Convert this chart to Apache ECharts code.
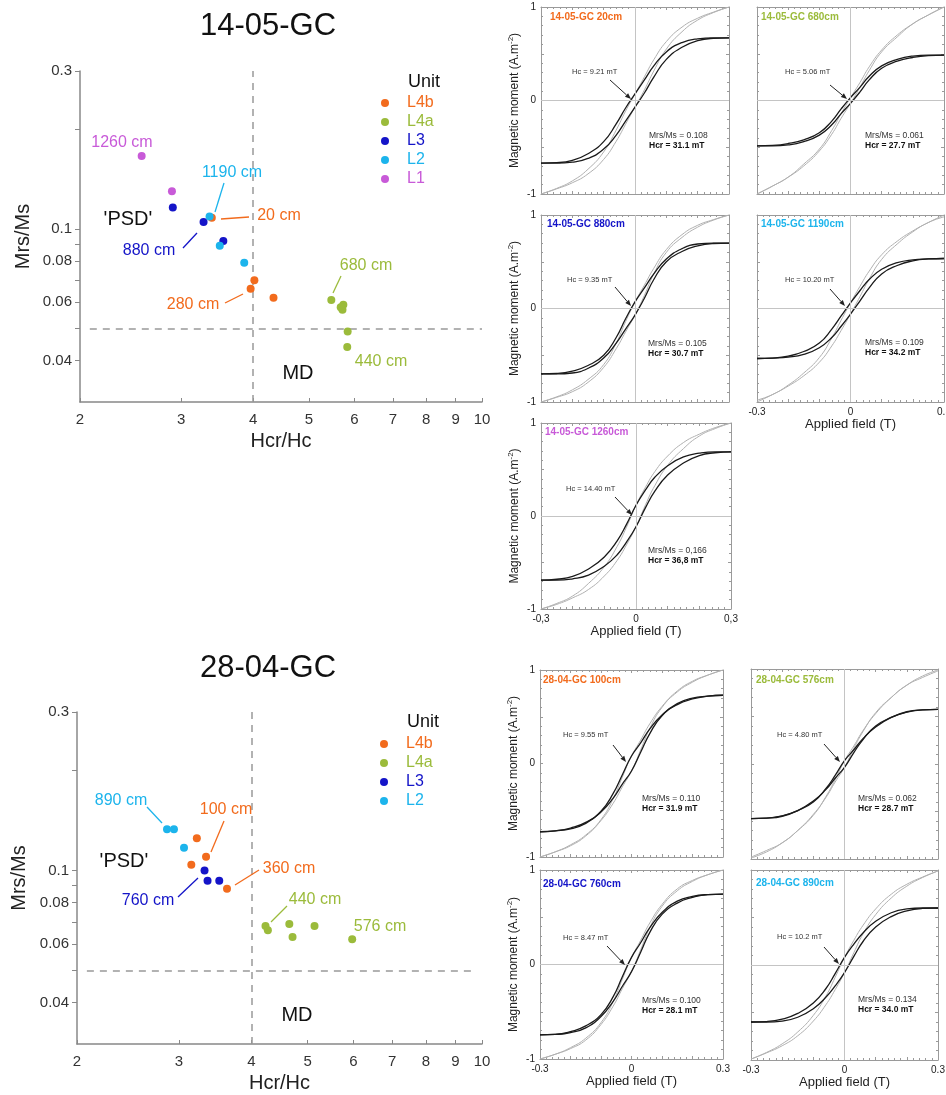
<!DOCTYPE html>
<html>
<head>
<meta charset="utf-8">
<title>Day plots and hysteresis loops</title>
<script src="https://cdn.jsdelivr.net/npm/echarts@6/dist/echarts.min.js"></script>
<style>
  html, body { margin: 0; padding: 0; background: #fff; }
  #chart { width: 946px; height: 1095px; }
</style>
</head>
<body>
<div id="chart"></div>
<script>
const FONT = 'Liberation Sans, Arial, sans-serif';

// couleurs des unités
const unitColors = { L4b: '#f26b1d', L4a: '#9bbb3b', L3: '#1414c8', L2: '#1cb4ec', L1: '#c85ad8' };

// Day plot 14-05-GC : [Hcr/Hc, Mrs/Ms]
const gc14_L4b = [[3.39, 0.108], [3.96, 0.066], [4.02, 0.070], [4.34, 0.062]];
const gc14_L4a = [[5.47, 0.061], [5.74, 0.059], [5.68, 0.058], [5.72, 0.057], [5.84, 0.049], [5.83, 0.044]];
const gc14_L3 = [[2.90, 0.116], [3.28, 0.105], [3.55, 0.092]];
const gc14_L2 = [[3.36, 0.109], [3.50, 0.089], [3.86, 0.079]];
const gc14_L1 = [[2.56, 0.166], [2.89, 0.130]];

// Day plot 28-04-GC
const gc28_L4b = [[3.22, 0.125], [3.34, 0.110], [3.15, 0.104], [3.63, 0.088]];
const gc28_L4a = [[4.23, 0.068], [4.27, 0.066], [4.65, 0.069], [4.71, 0.063], [5.14, 0.068], [5.97, 0.062]];
const gc28_L3 = [[3.32, 0.100], [3.36, 0.093], [3.52, 0.093]];
const gc28_L2 = [[2.86, 0.133], [2.94, 0.133], [3.06, 0.117]];

// graduations des Day plots
const dayXTicks = [2, 3, 4, 5, 6, 7, 8, 9, 10];
const dayYTicks = [0.04, 0.05, 0.06, 0.07, 0.08, 0.09, 0.1, 0.2, 0.3];
const dayYLabels = [0.04, 0.06, 0.08, 0.1, 0.3];

// cycles d'hystérésis : champ (T) et branche descendante (moment normalisé)
const fieldT = [-0.3, -0.25, -0.2, -0.15, -0.1, -0.06, -0.03, 0, 0.03, 0.06, 0.1, 0.15, 0.2, 0.25, 0.3];
const corr14_20 = [-0.67, -0.665, -0.64, -0.57, -0.44, -0.25, -0.08, 0.07, 0.22, 0.37, 0.52, 0.62, 0.66, 0.67, 0.67];
const raw14_20 = [-1.0, -0.94, -0.86, -0.735, -0.55, -0.316, -0.113, 0.07, 0.253, 0.436, 0.63, 0.785, 0.88, 0.945, 1.0];
const corr14_680 = [-0.485, -0.48, -0.46, -0.42, -0.345, -0.22, -0.09, 0.03, 0.14, 0.26, 0.37, 0.44, 0.475, 0.485, 0.485];
const raw14_680 = [-1.0, -0.915, -0.82, -0.68, -0.52, -0.32, -0.14, 0.03, 0.19, 0.36, 0.54, 0.70, 0.82, 0.915, 1.0];
const corr14_880 = [-0.70, -0.695, -0.67, -0.61, -0.50, -0.31, -0.11, 0.07, 0.22, 0.37, 0.53, 0.64, 0.69, 0.70, 0.70];
const raw14_880 = [-1.0, -0.945, -0.87, -0.76, -0.60, -0.37, -0.14, 0.07, 0.25, 0.43, 0.63, 0.79, 0.89, 0.95, 1.0];
const corr14_1190 = [-0.535, -0.53, -0.51, -0.46, -0.37, -0.22, -0.08, 0.06, 0.19, 0.31, 0.42, 0.49, 0.52, 0.53, 0.535];
const raw14_1190 = [-0.98, -0.92, -0.82, -0.69, -0.525, -0.315, -0.125, 0.06, 0.235, 0.40, 0.575, 0.72, 0.83, 0.92, 1.0];
const corr14_1260 = [-0.69, -0.68, -0.65, -0.57, -0.44, -0.27, -0.09, 0.115, 0.28, 0.42, 0.54, 0.635, 0.675, 0.69, 0.69];
const raw14_1260 = [-1.0, -0.94, -0.86, -0.725, -0.545, -0.33, -0.12, 0.115, 0.31, 0.48, 0.645, 0.79, 0.88, 0.95, 1.0];
const corr28_100 = [-0.73, -0.72, -0.69, -0.63, -0.51, -0.32, -0.12, 0.08, 0.22, 0.37, 0.52, 0.64, 0.70, 0.72, 0.73];
const raw28_100 = [-1.0, -0.945, -0.87, -0.765, -0.60, -0.375, -0.145, 0.08, 0.25, 0.425, 0.61, 0.775, 0.88, 0.945, 1.0];
const corr28_576 = [-0.575, -0.57, -0.545, -0.49, -0.40, -0.26, -0.12, 0.035, 0.15, 0.27, 0.39, 0.49, 0.55, 0.57, 0.575];
const raw28_576 = [-0.98, -0.91, -0.83, -0.70, -0.54, -0.345, -0.165, 0.035, 0.19, 0.355, 0.53, 0.70, 0.83, 0.925, 0.99];
const corr28_760 = [-0.745, -0.74, -0.71, -0.65, -0.53, -0.34, -0.13, 0.075, 0.23, 0.39, 0.55, 0.67, 0.72, 0.74, 0.745];
const raw28_760 = [-1.0, -0.95, -0.88, -0.78, -0.615, -0.39, -0.155, 0.075, 0.255, 0.44, 0.635, 0.80, 0.89, 0.95, 1.0];
const corr28_890 = [-0.60, -0.595, -0.57, -0.51, -0.40, -0.25, -0.09, 0.08, 0.22, 0.34, 0.46, 0.55, 0.59, 0.60, 0.60];
const raw28_890 = [-0.99, -0.92, -0.83, -0.705, -0.53, -0.33, -0.13, 0.08, 0.26, 0.42, 0.59, 0.745, 0.85, 0.925, 0.99];

// mise en page des petits graphiques
const panels = [
  { title: '14-05-GC 20cm', unit: 'L4b', corr: corr14_20, raw: raw14_20, hc: 'Hc = 9.21 mT', mrs: 'Mrs/Ms = 0.108', hcr: 'Hcr = 31.1 mT',
    rect: [541, 7, 188, 187], t: [550, 17], h: [572, 72], arr: [610, 80, 631, 99], m: [649, 136], yLab: true, zeroH: true, zeroV: true },
  { title: '14-05-GC 680cm', unit: 'L4a', corr: corr14_680, raw: raw14_680, hc: 'Hc = 5.06 mT', mrs: 'Mrs/Ms = 0.061', hcr: 'Hcr = 27.7 mT',
    rect: [757, 7, 187, 187], t: [761, 17], h: [785, 72], arr: [830, 85, 847, 99], m: [865, 136], zeroH: true, zeroV: true },
  { title: '14-05-GC 880cm', unit: 'L3', corr: corr14_880, raw: raw14_880, hc: 'Hc = 9.35 mT', mrs: 'Mrs/Ms = 0.105', hcr: 'Hcr = 30.7 mT',
    rect: [541, 215, 188, 187], t: [547, 224], h: [567, 280], arr: [615, 287, 631, 306], m: [648, 344], yLab: true, zeroH: true, zeroV: true },
  { title: '14-05-GC 1190cm', unit: 'L2', corr: corr14_1190, raw: raw14_1190, hc: 'Hc = 10.20 mT', mrs: 'Mrs/Ms = 0.109', hcr: 'Hcr = 34.2 mT',
    rect: [757, 215, 187, 187], t: [761, 224], h: [785, 280], arr: [830, 289, 845, 306], m: [865, 343], xLab: '.', zeroH: true, zeroV: true },
  { title: '14-05-GC 1260cm', unit: 'L1', corr: corr14_1260, raw: raw14_1260, hc: 'Hc = 14.40 mT', mrs: 'Mrs/Ms = 0,166', hcr: 'Hcr = 36,8 mT',
    rect: [541, 423, 190, 186], t: [545, 432], h: [566, 489], arr: [615, 497, 632, 515], m: [648, 551], yLab: true, xLab: ',', zeroH: true, zeroV: true },
  { title: '28-04-GC 100cm', unit: 'L4b', corr: corr28_100, raw: raw28_100, hc: 'Hc = 9.55 mT', mrs: 'Mrs/Ms = 0.110', hcr: 'Hcr = 31.9 mT',
    rect: [540, 670, 183, 187], t: [543, 680], h: [563, 735], arr: [613, 745, 626, 762], m: [642, 799], yLab: true },
  { title: '28-04-GC 576cm', unit: 'L4a', corr: corr28_576, raw: raw28_576, hc: 'Hc = 4.80 mT', mrs: 'Mrs/Ms = 0.062', hcr: 'Hcr = 28.7 mT',
    rect: [751, 669, 187, 190], t: [756, 680], h: [777, 735], arr: [824, 744, 840, 762], m: [858, 799], zeroV: true },
  { title: '28-04-GC 760cm', unit: 'L3', corr: corr28_760, raw: raw28_760, hc: 'Hc = 8.47 mT', mrs: 'Mrs/Ms = 0.100', hcr: 'Hcr = 28.1 mT',
    rect: [540, 870, 183, 189], t: [543, 884], h: [563, 938], arr: [607, 946, 625, 965], m: [642, 1001], yLab: true, xLab: '.', zeroH: true },
  { title: '28-04-GC 890cm', unit: 'L2', corr: corr28_890, raw: raw28_890, hc: 'Hc = 10.2 mT', mrs: 'Mrs/Ms = 0.134', hcr: 'Hcr = 34.0 mT',
    rect: [751, 870, 187, 190], t: [756, 883], h: [777, 937], arr: [824, 947, 839, 964], m: [858, 1000], xLab: '.', zeroH: true, zeroV: true }
];

const fmt2 = v => String(+(+v).toPrecision(2));

// axes des Day plots
function dayXAxis(grid) {
  return {
    type: 'log', logBase: 10, gridIndex: grid, min: 2, max: 10,
    name: 'Hcr/Hc', nameLocation: 'middle', nameGap: 29,
    nameTextStyle: { fontSize: 20, color: '#222', fontFamily: FONT },
    axisLine: { lineStyle: { color: '#888', width: 1.5 } },
    axisTick: { inside: true, length: 4, lineStyle: { color: '#888' }, customValues: dayXTicks },
    axisLabel: { fontSize: 15, color: '#333', fontFamily: FONT, margin: 10, customValues: dayXTicks, formatter: fmt2 },
    minorTick: { show: false }, splitLine: { show: false }
  };
}
function dayYAxis(grid, gap) {
  return {
    type: 'log', logBase: 10, gridIndex: grid, min: 0.03, max: 0.3,
    name: 'Mrs/Ms', nameLocation: 'middle', nameGap: gap, nameRotate: 90,
    nameTextStyle: { fontSize: 20, color: '#222', fontFamily: FONT },
    axisLine: { lineStyle: { color: '#888', width: 1.5 } },
    axisTick: { length: 5, lineStyle: { color: '#888' }, customValues: dayYTicks },
    axisLabel: { fontSize: 15, color: '#333', fontFamily: FONT, margin: 8, customValues: dayYLabels, formatter: fmt2 },
    minorTick: { show: false }, splitLine: { show: false }
  };
}

// séries des Day plots
const dash = { color: '#999', type: [7, 6], width: 1.5 };
function dayScatter(name, data, grid, withLines, hStart, hEnd) {
  const s = {
    type: 'scatter', name: name, data: data, xAxisIndex: grid, yAxisIndex: grid,
    symbolSize: 8, itemStyle: { color: unitColors[name], opacity: 1 }, z: 5
  };
  if (withLines) {
    s.markLine = {
      silent: true, symbol: 'none', label: { show: false }, lineStyle: dash,
      data: [
        { xAxis: 4 },
        [{ coord: [hStart, 0.05] }, { coord: [hEnd, 0.05] }]
      ]
    };
  }
  return s;
}

const series = [
  dayScatter('L4b', gc14_L4b, 0, true, 2.08, 10),
  dayScatter('L4a', gc14_L4a, 0),
  dayScatter('L3', gc14_L3, 0),
  dayScatter('L2', gc14_L2, 0),
  dayScatter('L1', gc14_L1, 0),
  dayScatter('L4b', gc28_L4b, 1, true, 2.08, 9.73),
  dayScatter('L4a', gc28_L4a, 1),
  dayScatter('L3', gc28_L3, 1),
  dayScatter('L2', gc28_L2, 1)
];

const grids = [
  { left: 80, top: 71, width: 402, height: 331, outerBoundsMode: 'none', containLabel: false },
  { left: 77, top: 712, width: 405, height: 332, outerBoundsMode: 'none', containLabel: false }
];
const xAxes = [dayXAxis(0), dayXAxis(1)];
const yAxes = [dayYAxis(0, 47), dayYAxis(1, 48)];

// petits graphiques d'hystérésis
const frame = { color: '#9a9a9a', width: 1 };
panels.forEach((p, k) => {
  const gi = k + 2;
  grids.push({ left: p.rect[0], top: p.rect[1], width: p.rect[2], height: p.rect[3], outerBoundsMode: 'none', containLabel: false });
  const xBase = {
    type: 'value', gridIndex: gi, min: -0.3, max: 0.3, interval: 0.1,
    axisLine: { onZero: false, lineStyle: frame },
    axisTick: { inside: true, length: 3, lineStyle: frame },
    minorTick: { show: true, splitNumber: 5, length: 2, lineStyle: frame },
    splitLine: { show: false }
  };
  const yBase = {
    type: 'value', gridIndex: gi, min: -1, max: 1, interval: 0.5,
    axisLine: { onZero: false, lineStyle: frame },
    axisTick: { inside: true, length: 3, lineStyle: frame },
    minorTick: { show: true, splitNumber: 5, length: 2, lineStyle: frame },
    splitLine: { show: false }
  };
  const sep = p.xLab;
  xAxes.push(Object.assign({}, xBase, {
    position: 'bottom',
    name: sep ? 'Applied field (T)' : '', nameLocation: 'middle', nameGap: 16,
    nameTextStyle: { fontSize: 13, color: '#222', fontFamily: FONT },
    axisLabel: sep ? {
      show: true, fontSize: 10, color: '#222', fontFamily: FONT, margin: 5,
      customValues: [-0.3, 0, 0.3],
      formatter: v => (Math.abs(v) < 1e-9 ? '0' : (+v).toFixed(1).replace('.', sep))
    } : { show: false }
  }));
  xAxes.push(Object.assign({}, xBase, { position: 'top', axisLabel: { show: false } }));
  yAxes.push(Object.assign({}, yBase, {
    position: 'left',
    name: p.yLab ? 'Magnetic moment (A.m{sup|-2})' : '', nameLocation: 'middle', nameGap: 18, nameRotate: 90,
    nameTextStyle: { fontSize: 12, color: '#222', fontFamily: FONT,
      rich: { sup: { fontSize: 8, color: '#222', fontFamily: FONT, padding: [0, 0, 8, 0] } } },
    axisLabel: p.yLab ? {
      show: true, fontSize: 10, color: '#222', fontFamily: FONT, margin: 5,
      customValues: [-1, 0, 1], formatter: v => String(Math.round(v))
    } : { show: false }
  }));
  yAxes.push(Object.assign({}, yBase, { position: 'right', axisLabel: { show: false } }));

  const xi = 2 + 2 * k, yi = 2 + 2 * k;
  const upper = arr => fieldT.map((h, i) => [h, arr[i]]);
  const lower = arr => fieldT.map((h, i) => [-h, -arr[i]]);
  const zeroLines = [];
  if (p.zeroH) zeroLines.push({ yAxis: 0 });
  if (p.zeroV) zeroLines.push({ xAxis: 0 });
  const line = (data, color, width, z) => ({
    type: 'line', data: data, xAxisIndex: xi, yAxisIndex: yi, showSymbol: false,
    smooth: 0.5, lineStyle: { color: color, width: width }, z: z, silent: true
  });
  const rawUp = line(upper(p.raw), '#b0b0b0', 1, 2);
  rawUp.markLine = {
    silent: true, symbol: 'none', label: { show: false },
    lineStyle: { color: '#c4c4c4', type: 'solid', width: 1 }, data: zeroLines
  };
  series.push(rawUp);
  series.push(line(lower(p.raw), '#b0b0b0', 1, 2));
  series.push(line(upper(p.corr), '#1a1a1a', 1.3, 3));
  series.push(line(lower(p.corr), '#1a1a1a', 1.3, 3));
});

// textes et annotations
const graphic = [];
function txt(x, y, text, size, color, opts) {
  graphic.push(Object.assign({
    type: 'text', x: x, y: y, silent: true, z: 10,
    style: Object.assign({ text: text, fontSize: size, fill: color, fontFamily: FONT, align: 'center', verticalAlign: 'middle' }, opts || {})
  }));
}
function seg(x1, y1, x2, y2, color, w) {
  graphic.push({ type: 'line', silent: true, z: 10, shape: { x1: x1, y1: y1, x2: x2, y2: y2 }, style: { stroke: color, lineWidth: w || 1.3 } });
}
function arrow(x1, y1, x2, y2) {
  const a = Math.atan2(y2 - y1, x2 - x1), L = 6, w = 2.4;
  const bx = x2 - L * Math.cos(a), by = y2 - L * Math.sin(a);
  seg(x1, y1, bx, by, '#222', 1);
  graphic.push({
    type: 'polygon', silent: true, z: 10,
    shape: { points: [[x2, y2], [bx + w * Math.sin(a), by - w * Math.cos(a)], [bx - w * Math.sin(a), by + w * Math.cos(a)]] },
    style: { fill: '#222' }
  });
}

// Day plot 14-05-GC
txt(268, 26, '14-05-GC', 31, '#111');
txt(408, 82, 'Unit', 18, '#111', { align: 'left' });
txt(122, 143, '1260 cm', 16, unitColors.L1);
txt(232, 173, '1190 cm', 16, unitColors.L2);
seg(224, 183, 215, 212, unitColors.L2);
txt(279, 216, '20 cm', 16, unitColors.L4b);
seg(249, 217, 221, 219, unitColors.L4b);
txt(149, 251, '880 cm', 16, unitColors.L3);
seg(183, 248, 197, 233, unitColors.L3);
txt(193, 305, '280 cm', 16, unitColors.L4b);
seg(225, 303, 243, 294, unitColors.L4b);
txt(366, 266, '680 cm', 16, unitColors.L4a);
seg(333, 293, 341, 276, unitColors.L4a);
txt(381, 362, '440 cm', 16, unitColors.L4a);
txt(128, 219, "'PSD'", 20, '#111');
txt(298, 373, 'MD', 20, '#111');

// Day plot 28-04-GC
txt(268, 668, '28-04-GC', 31, '#111');
txt(407, 722, 'Unit', 18, '#111', { align: 'left' });
txt(121, 801, '890 cm', 16, unitColors.L2);
seg(147, 807, 162, 823, unitColors.L2);
txt(226, 810, '100 cm', 16, unitColors.L4b);
seg(224, 821, 211, 852, unitColors.L4b);
txt(289, 869, '360 cm', 16, unitColors.L4b);
seg(259, 870, 235, 885, unitColors.L4b);
txt(148, 901, '760 cm', 16, unitColors.L3);
seg(178, 897, 198, 878, unitColors.L3);
txt(315, 900, '440 cm', 16, unitColors.L4a);
seg(287, 906, 271, 922, unitColors.L4a);
txt(380, 927, '576 cm', 16, unitColors.L4a);
txt(124, 861, "'PSD'", 20, '#111');
txt(297, 1015, 'MD', 20, '#111');

// annotations des cycles
panels.forEach(p => {
  txt(p.t[0], p.t[1], p.title, 10, unitColors[p.unit], { align: 'left', fontWeight: 'bold' });
  txt(p.h[0], p.h[1], p.hc, 7.5, '#333', { align: 'left' });
  arrow(p.arr[0], p.arr[1], p.arr[2], p.arr[3]);
  txt(p.m[0], p.m[1], p.mrs, 8.5, '#333', { align: 'left' });
  txt(p.m[0], p.m[1] + 10, p.hcr, 8.5, '#111', { align: 'left', fontWeight: 'bold' });
});

const legendItems = units => units.map(u => ({ name: u, textStyle: { color: unitColors[u] } }));
const legendBase = {
  orient: 'vertical', icon: 'circle', itemWidth: 34, itemHeight: 8, itemGap: 3,
  selectedMode: false, textStyle: { fontSize: 16, fontFamily: FONT, lineHeight: 16 }
};

const chart = echarts.init(document.getElementById('chart'), null, { renderer: 'canvas' });
chart.setOption({
  backgroundColor: '#fff',
  animation: false,
  textStyle: { fontFamily: FONT },
  legend: [
    Object.assign({}, legendBase, { left: 376, top: 90, data: legendItems(['L4b', 'L4a', 'L3', 'L2', 'L1']) }),
    Object.assign({}, legendBase, { left: 375, top: 731, data: legendItems(['L4b', 'L4a', 'L3', 'L2']) })
  ],
  grid: grids,
  xAxis: xAxes,
  yAxis: yAxes,
  series: series,
  graphic: graphic
});
</script>
</body>
</html>
